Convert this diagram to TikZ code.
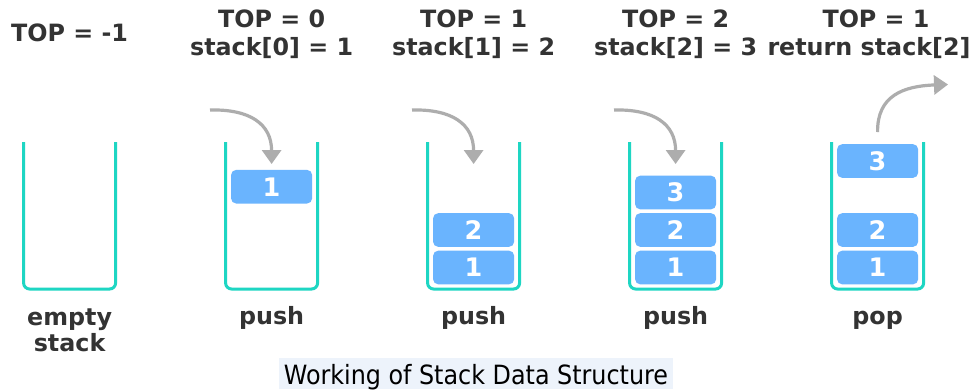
\documentclass[tikz,border=0pt]{standalone}
\usepackage{fontspec}
\setmainfont{DejaVu Sans}
\newfontfamily\capfont{DejaVu Sans Condensed}
\usetikzlibrary{arrows.meta}
\definecolor{wallc}{HTML}{1ED6C3}
\definecolor{blockc}{HTML}{6AB4FE}
\definecolor{arrowc}{HTML}{ADADAD}
\definecolor{labelc}{HTML}{333333}
\definecolor{capbg}{HTML}{EDF3FB}
\begin{document}
\begin{tikzpicture}[x=1pt,y=-1pt,
 wall/.style={draw=wallc,line width=3pt,rounded corners=6pt},
 block/.style={fill=blockc,rounded corners=5pt,minimum width=81pt,minimum height=33.6pt,inner sep=0pt,text=white,font=\bfseries\fontsize{25.5}{30}\selectfont},
 lbl/.style={text=labelc,font=\bfseries\fontsize{23.8}{28}\selectfont,inner sep=0pt,anchor=base},
 mover/.style={draw=arrowc,line width=3.2pt,-{Triangle[width=19pt,length=14pt]}},
 captxt/.style={text=black,font=\capfont\fontsize{26.5}{30}\selectfont,inner sep=0pt,anchor=base}]
\useasboundingbox (0,0) rectangle (976,389);
\fill[white] (0,0) rectangle (976,389);
% stacks
\foreach \cx in {69.6,271.6,473.6,675.6,877.6}{
  \draw[wall] (\cx-46,142) -- (\cx-46,289) -- (\cx+46,289) -- (\cx+46,142);
}
% blocks
\node[block] (b21) at (271.6,186.7) {1};
\node[block] (b31) at (473.6,267.5) {1};
\node[block] (b32) at (473.6,230) {2};
\node[block] (b41) at (675.6,267.5) {1};
\node[block] (b42) at (675.6,230) {2};
\node[block] (b43) at (675.6,192.5) {3};
\node[block] (b51) at (877.6,267.5) {1};
\node[block] (b52) at (877.6,230) {2};
\node[block] (b53) at (877.6,161) {3};
% arrows
\coordinate (p2s) at (210,110);   \coordinate (p2e) at (271.6,164);
\coordinate (p3s) at (412,110);   \coordinate (p3e) at (473.6,164);
\coordinate (p4s) at (614,110);   \coordinate (p4e) at (675.6,164);
\coordinate (p5s) at (877.6,132); \coordinate (p5e) at (948,84.5);
\draw[mover] (p2s) .. controls (250,109) and (271.6,124) .. (p2e);
\draw[mover] (p3s) .. controls (452,109) and (473.6,124) .. (p3e);
\draw[mover] (p4s) .. controls (654,109) and (675.6,124) .. (p4e);
\draw[mover] (p5s) .. controls (877,96) and (903,86) .. (p5e);
% top labels
\node[lbl] (t1) at (69.6,41) {TOP = -1};
\node[lbl] (t2a) at (271.6,27) {TOP = 0};
\node[lbl] (t2b) at (271.6,55) {stack[0] = 1};
\node[lbl] (t3a) at (473.6,27) {TOP = 1};
\node[lbl] (t3b) at (473.6,55) {stack[1] = 2};
\node[lbl] (t4a) at (675.6,27) {TOP = 2};
\node[lbl] (t4b) at (675.6,55) {stack[2] = 3};
\node[lbl] (t5a) at (876,27) {TOP = 1};
\node[lbl] (t5b) at (869,55) {return stack[2]};
% bottom labels
\node[lbl] (u1a) at (69.6,325) {empty};
\node[lbl] (u1b) at (69.6,351) {stack};
\node[lbl] (u2) at (271.6,324) {push};
\node[lbl] (u3) at (473.6,324) {push};
\node[lbl] (u4) at (675.6,324) {push};
\node[lbl] (u5) at (877.6,324) {pop};
% caption
\fill[capbg] (279,358) rectangle (673,389);
\node[captxt] (cap) at (476,384.5) {Working of Stack Data Structure};
\end{tikzpicture}
\end{document}
